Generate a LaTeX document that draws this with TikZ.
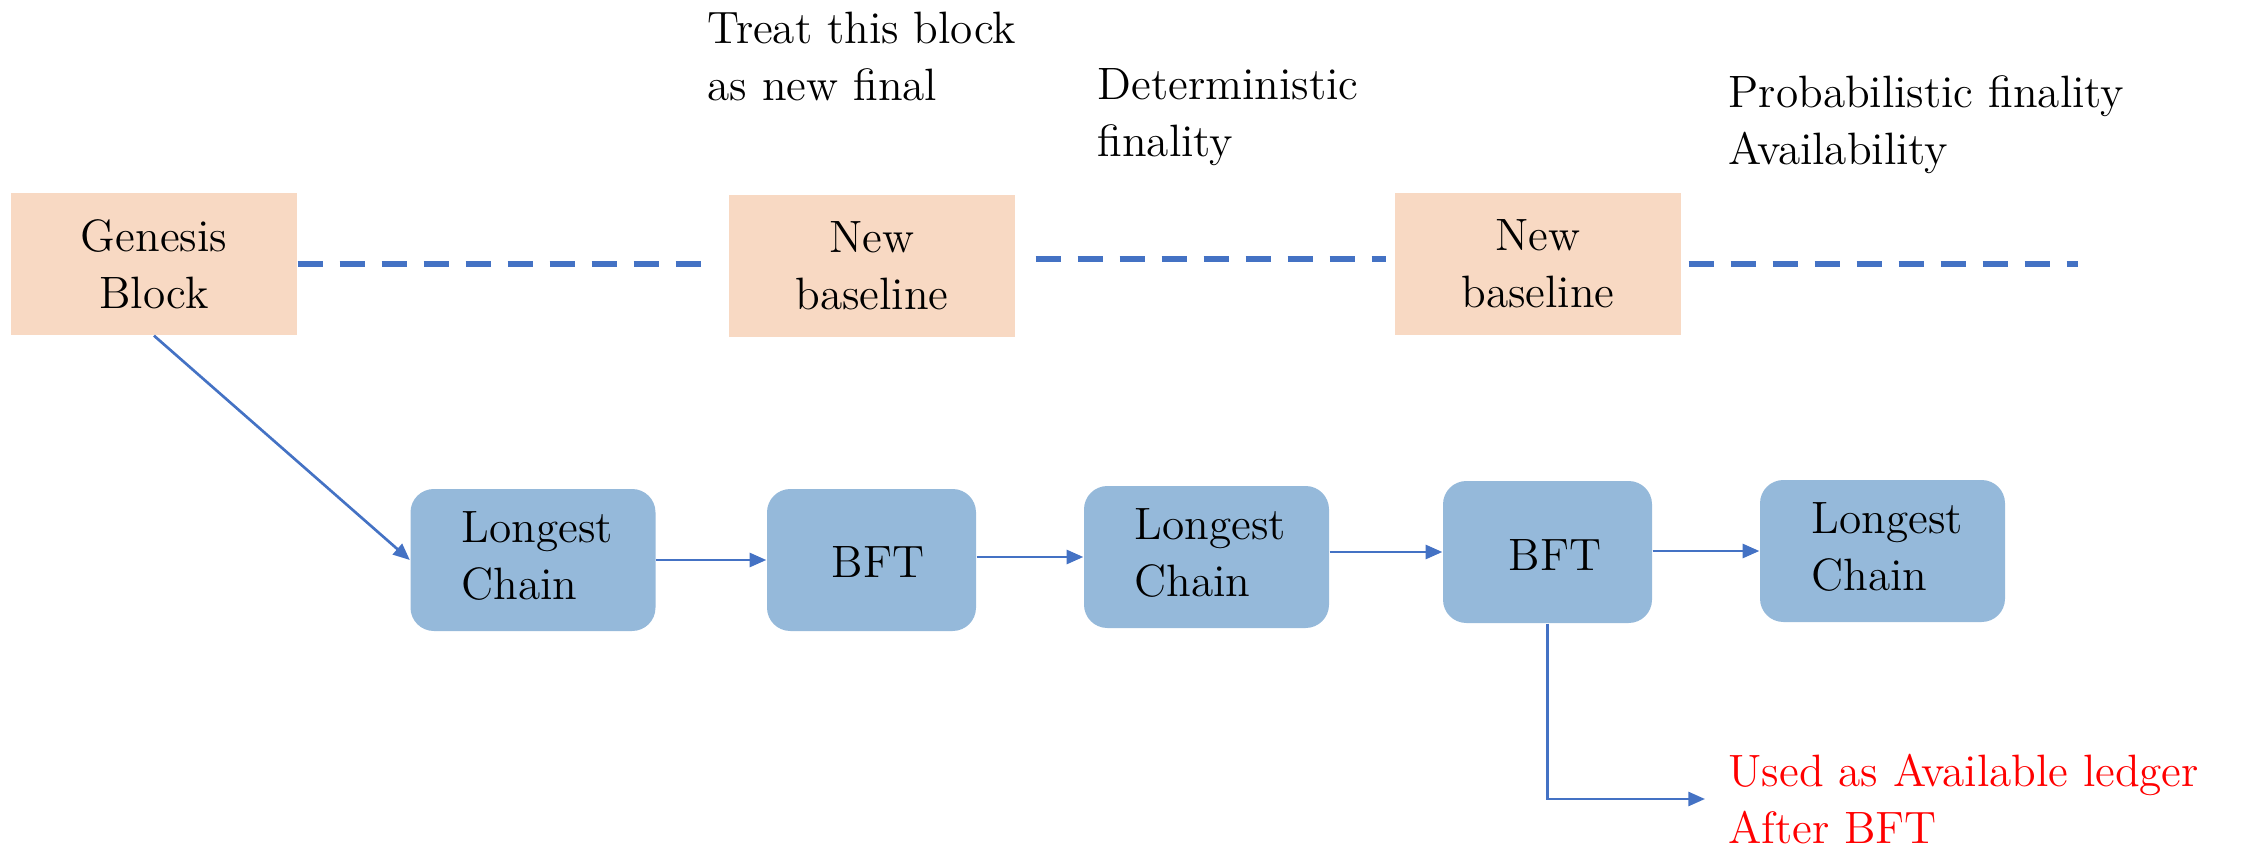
\documentclass[tikz,border=0pt]{standalone}
\usepackage{fontspec}
\usetikzlibrary{arrows.meta}
\definecolor{peach}{HTML}{F8D9C3}
\definecolor{steel}{HTML}{95B9DA}
\definecolor{link}{HTML}{4472C4}
\begin{document}
\begin{tikzpicture}[x=0.3pt,y=-0.3pt,
  txt/.style={font=\fontsize{13.6}{17.1}\selectfont, inner sep=0pt, align=left},
  finalbox/.style={fill=peach, draw=none, inner sep=0pt, align=center,
    font=\fontsize{13.6}{17.1}\selectfont, minimum width=85.8pt, minimum height=42.6pt},
  chainbox/.style={fill=steel, draw=none, rounded corners=7pt, inner sep=0pt,
    font=\fontsize{13.6}{17.1}\selectfont, minimum height=42.6pt},
  flow/.style={draw=link, line width=0.8pt, -{Triangle[length=5pt,width=4.2pt]}},
  track/.style={draw=link, line width=1.9pt, dash pattern=on 7.5pt off 5.1pt}]
\useasboundingbox (0,0) rectangle (2247,849);

% finalised blocks on the upper track
\node[finalbox] (gen) at (154,264) {Genesis\\Block};
\node[finalbox] (nb1) at (872,266) {New\\baseline};
\node[finalbox] (nb2) at (1538,264) {New\\baseline};

% protocol phases on the lower track
\node[chainbox, minimum width=73.5pt] (lc1) at (533,560) {};
\node[txt, anchor=west] at (461,556) {Longest\\Chain};
\node[chainbox, minimum width=62.7pt] (bft1) at (871.5,560) {};
\node[txt] at (878,562) {BFT};
\node[chainbox, minimum width=73.5pt] (lc2) at (1206.5,557) {};
\node[txt, anchor=west] at (1134,553) {Longest\\Chain};
\node[chainbox, minimum width=62.7pt] (bft2) at (1547.5,552) {};
\node[txt] at (1555,555) {BFT};
\node[chainbox, minimum width=73.5pt] (lc3) at (1882.5,551) {};
\node[txt, anchor=west] at (1811,547) {Longest\\Chain};

% annotations
\node[txt, anchor=north west] (t1) at (707,11) {Treat this block\\as new final};
\node[txt, anchor=north west] (t2) at (1097,68) {Deterministic\\finality};
\node[txt, anchor=north west] (t3) at (1728,75) {Probabilistic finality\\Availability};
\node[txt, anchor=north west, text=red] (t4) at (1728,753) {Used as Available ledger\\After BFT};

% dashed finality track
\coordinate (trackend) at (2078,264);
\draw[track] (gen.east) -- ([xshift=-8.1pt]gen.east -| nb1.west);
\draw[track] ([xshift=6pt,yshift=2.1pt]nb1.east) -- ([xshift=-2.4pt,yshift=2.1pt]nb1.east -| nb2.west);
\draw[track] ([xshift=2.1pt]nb2.east) -- (trackend);

% phase transitions
\draw[flow] (gen.south) -- (lc1.west);
\draw[flow] (lc1.east) -- (bft1.west);
\draw[flow] (bft1.east |- lc2.west) -- (lc2.west);
\draw[flow] (lc2.east |- bft2.west) -- (bft2.west);
\draw[flow] (bft2.east |- lc3.west) -- (lc3.west);
\coordinate (ledger) at (1705,799);
\draw[flow] (bft2.south) |- (ledger);
\end{tikzpicture}
\end{document}
